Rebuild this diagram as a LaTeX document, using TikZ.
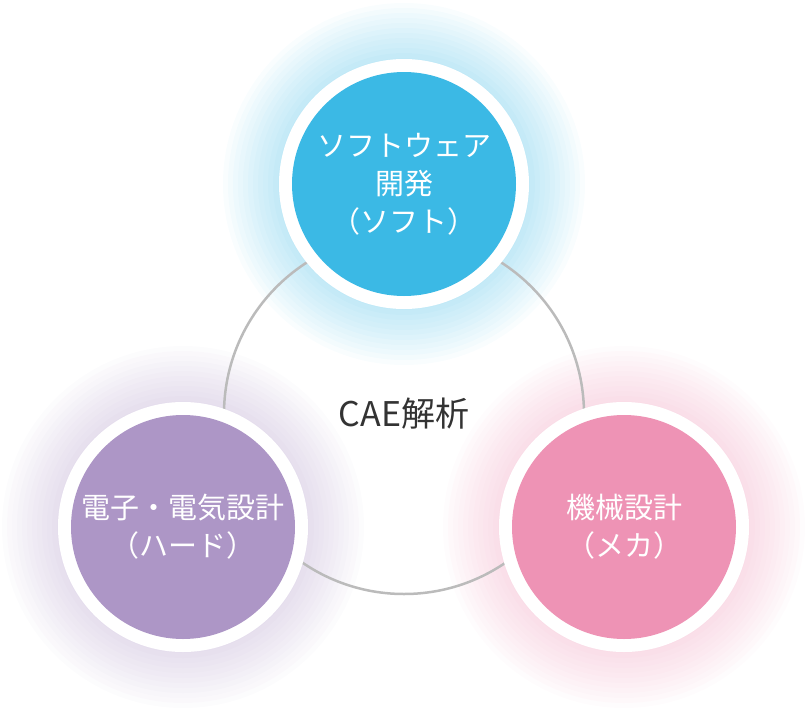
\documentclass[tikz,border=0pt]{standalone}
\usepackage{fontspec}
\setmainfont{Noto Sans CJK JP}
\definecolor{cblue}{HTML}{3BB9E5}
\definecolor{cpurple}{HTML}{AD96C6}
\definecolor{cpink}{HTML}{EE93B5}
\definecolor{ctext}{HTML}{333333}
\definecolor{cring}{HTML}{BBBBBB}
\begin{document}
\begin{tikzpicture}[x=1pt,y=-1pt,
  glow/.style={fill=#1,opacity=0.03,draw=none},
  lbl/.style={text=white,font=\fontsize{29}{38}\selectfont,align=center}]
\useasboundingbox (0,0) rectangle (807,710);
\coordinate (c) at (404,414);
\coordinate (t) at (404,184);
\coordinate (l) at (183,527);
\coordinate (r) at (624,527);
\foreach \p/\col in {t/cblue,l/cpurple,r/cpink}{
  \foreach \rr in {126,131,...,181}{\fill[glow=\col] (\p) circle (\rr);}
}
\draw[cring,line width=2.5] (c) circle (180);
\foreach \p/\col in {t/cblue,l/cpurple,r/cpink}{
  \fill[white] (\p) circle (125);
  \fill[\col] (\p) circle (112);
}
\node[text=ctext,font=\fontsize{34}{40}\selectfont] (cn) at (c) {CAE解析};
\node[lbl] (tn) at (t) {ソフトウェア\\開発\\（ソフト）};
\node[lbl] (ln) at (l) {電子・電気設計\\（ハード）};
\node[lbl] (rn) at (r) {機械設計\\（メカ）};
\end{tikzpicture}
\end{document}
